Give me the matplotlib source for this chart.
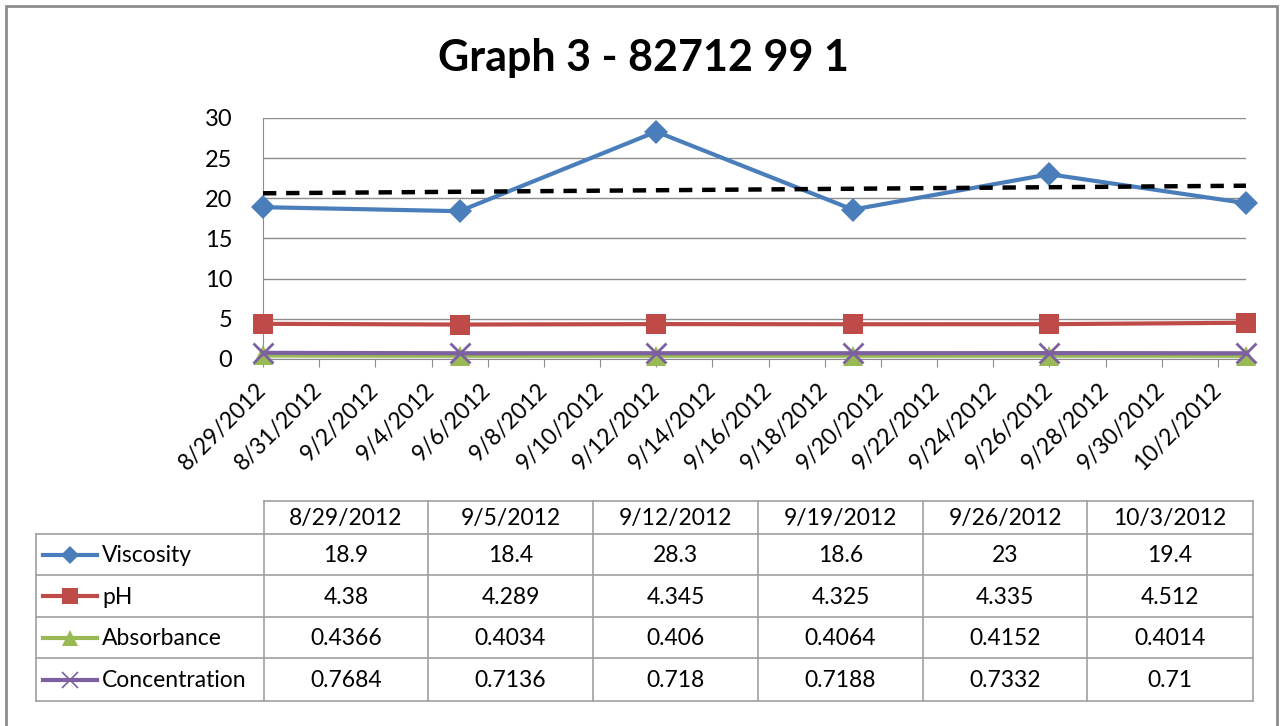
import datetime as dt
import numpy as np
import matplotlib
matplotlib.use("Agg")
import matplotlib.pyplot as plt
import matplotlib.dates as mdates

plt.rcParams['font.family'] = ['Lato', 'DejaVu Sans']

# data
dates = ["8/29/2012", "9/5/2012", "9/12/2012", "9/19/2012", "9/26/2012", "10/3/2012"]
viscosity = [18.9, 18.4, 28.3, 18.6, 23, 19.4]
ph = [4.38, 4.289, 4.345, 4.325, 4.335, 4.512]
absorbance = [0.4366, 0.4034, 0.406, 0.4064, 0.4152, 0.4014]
concentration = [0.7684, 0.7136, 0.718, 0.7188, 0.7332, 0.71]
series_names = ["Viscosity", "pH", "Absorbance", "Concentration"]
series_text = [
    ["18.9", "18.4", "28.3", "18.6", "23", "19.4"],
    ["4.38", "4.289", "4.345", "4.325", "4.335", "4.512"],
    ["0.4366", "0.4034", "0.406", "0.4064", "0.4152", "0.4014"],
    ["0.7684", "0.7136", "0.718", "0.7188", "0.7332", "0.71"],
]
title = "Graph 3 - 82712 99 1"

colors = ["#4A7EBB", "#BE4B48", "#98B954", "#7D60A0"]
markers = ["D", "s", "^", "x"]
msizes = [12, 14, 14, 15]

x = [dt.datetime.strptime(d, "%m/%d/%Y") for d in dates]
xn = mdates.date2num(x)

W, H = 1281, 726
fig = plt.figure(figsize=(W / 100, H / 100), dpi=100)

# overlay for frame and table (pixel coordinates)
bg = fig.add_axes([0, 0, 1, 1])
bg.set_xlim(0, W)
bg.set_ylim(H, 0)
bg.axis("off")
bg.plot([6, 6, 1277, 1277], [740, 6, 6, 740], color="#8C8C8C", lw=2, solid_joinstyle="miter")

ax = fig.add_axes([263 / W, 1 - 359 / H, (1246 - 263) / W, (359 - 118) / H])
series = [viscosity, ph, absorbance, concentration]
for vals, c, m, ms in zip(series, colors, markers, msizes):
    kw = dict(markeredgewidth=2) if m == "x" else dict(markeredgewidth=0)
    ax.plot(xn, vals, color=c, lw=3, marker=m, markersize=ms, clip_on=False, zorder=3, **kw)

# linear trendline for viscosity
k, b = np.polyfit(xn - xn[0], viscosity, 1)
ax.plot(xn, k * (xn - xn[0]) + b, color="black", lw=3.2, ls=(0, (3, 2.2)), zorder=4)

ax.set_ylim(0, 30)
ax.set_yticks(range(0, 31, 5))
ax.set_xlim(xn[0], xn[-1])
ticks = np.arange(xn[0], xn[-1], 2)
ax.set_xticks(ticks)
ax.set_xticklabels([f"{mdates.num2date(t).month}/{mdates.num2date(t).day}/{mdates.num2date(t).year}" for t in ticks],
                   rotation=45, ha="right", va="center", rotation_mode="anchor", fontsize=16.5)
ax.tick_params(axis="y", labelsize=17, length=0, pad=22)
ax.tick_params(axis="x", length=6, color="#8C8C8C", pad=14)
ax.grid(axis="y", color="#8C8C8C", lw=1)
ax.set_axisbelow(True)
for s in ["top", "right"]:
    ax.spines[s].set_visible(False)
ax.spines["left"].set_color("#8C8C8C")
ax.spines["bottom"].set_color("#8C8C8C")

fig.text(644 / W, 1 - 58 / H, title, ha="center", va="center", fontsize=31, fontweight="bold")

# data table
cols = [264, 428, 593, 758, 923, 1087, 1253]
rows = [501, 534, 575, 617, 658, 701]
left = 36
gc = "#A0A0A0"
for yv in rows:
    x0 = cols[0] if yv == rows[0] else left
    bg.plot([x0, cols[-1]], [yv, yv], color=gc, lw=1.2)
for xv in cols:
    bg.plot([xv, xv], [rows[0], rows[-1]], color=gc, lw=1.2)
bg.plot([left, left], [rows[1], rows[-1]], color=gc, lw=1.2)

fs = 16.5
for j, d in enumerate(dates):
    bg.text((cols[j] + cols[j + 1]) / 2, (rows[0] + rows[1]) / 2 + 1, d, ha="center", va="center", fontsize=fs)
for i, name in enumerate(series_names):
    yc = (rows[i + 1] + rows[i + 2]) / 2
    bg.plot([43, 97], [yc, yc], color=colors[i], lw=3)
    kw = dict(markeredgewidth=1.2) if markers[i] == "x" else dict(markeredgewidth=0)
    bg.plot([70], [yc], marker=markers[i], color=colors[i], markersize=msizes[i] * 0.8, **kw)
    bg.text(102, yc + 1, name, ha="left", va="center", fontsize=fs)
    for j, t in enumerate(series_text[i]):
        bg.text((cols[j] + cols[j + 1]) / 2, yc + 1, t, ha="center", va="center", fontsize=fs)

fig.savefig("out.png", dpi=100)
